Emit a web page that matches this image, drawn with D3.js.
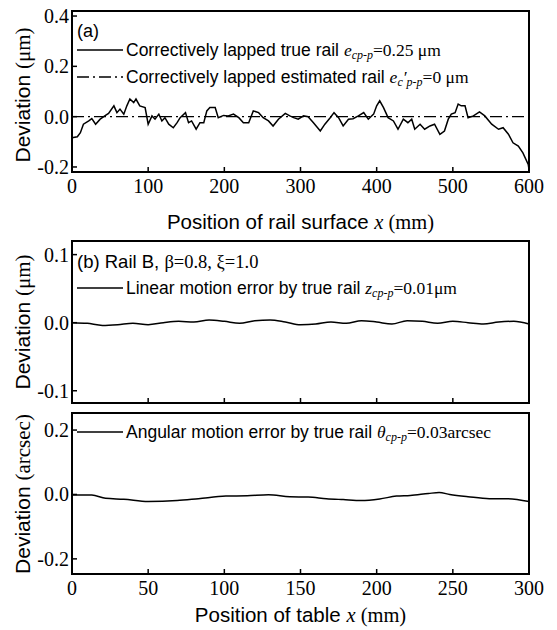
<!DOCTYPE html>
<html lang="en">
<head>
<meta charset="UTF-8">
<title>Rail deviation</title>
<script src="https://d3js.org/d3.v7.min.js"></script>
<style>
  body { margin: 0; background: #fff; }
  .tick-label { font-family: "Liberation Serif", serif; font-size: 20px; fill: #000; }
  .sans { font-family: "Liberation Sans", Arial, sans-serif; }
  .serif { font-family: "Liberation Serif", serif; }
</style>
</head>
<body>
<div id="chart"></div>
<script>
// ---- data ----
// (a) correctively lapped true rail, position (mm) / deviation (um)
var railX = [0,7,11,15,22,26,31,37,44,48,55,59,63,68,72,76,81,84,89,96,100,105,109,114,118,122,127,133,138,142,149,153,157,163,168,173,177,181,188,192,199,205,212,219,225,232,238,245,251,258,264,271,280,286,291,297,304,310,317,326,332,339,344,350,356,363,369,376,383,389,396,400,404,409,415,422,428,435,441,446,450,457,463,470,476,483,489,494,498,503,507,511,516,520,527,535,542,551,560,566,573,579,586,592,599,600];
var railY = [-0.084,-0.08,-0.064,-0.03,-0.017,-0.008,-0.03,-0.01,0.005,0.013,0.043,0.016,0.03,0.01,0.043,0.07,0.056,0.07,0.043,0.036,-0.03,0.003,-0.01,0.01,-0.017,-0.004,-0.03,-0.044,-0.024,-0.004,0.016,-0.024,-0.017,-0.05,-0.024,-0.024,0.023,0.036,0.036,-0.004,0.005,0.003,0.01,-0.004,-0.024,-0.024,0.023,0.016,-0.004,-0.017,-0.037,-0.01,0.013,0.003,-0.004,-0.01,0.003,0,-0.024,-0.057,-0.03,-0.004,0.016,-0.004,-0.037,-0.01,-0.008,0.003,0.016,-0.01,0.01,0.043,0.063,0.036,-0.004,-0.017,-0.05,-0.01,-0.024,-0.01,-0.05,-0.03,-0.05,-0.037,-0.03,-0.07,-0.057,-0.01,0.01,0.016,0.05,0.043,0.043,-0.004,0.003,0.019,0.003,-0.03,-0.05,-0.044,-0.07,-0.104,-0.117,-0.144,-0.19,-0.21];
// (b) linear motion error (um) and angular motion error (arcsec) vs table position (mm)
var tableX = [0,10,20,30,40,50,60,70,80,90,100,110,120,130,140,150,160,170,180,190,200,210,220,230,240,250,260,270,280,290,300];
var linearY = [0,-0.001,-0.004,-0.003,-0.001,-0.003,0,0.002,0.001,0.004,0.002,-0.001,0.003,0.004,0.001,-0.003,-0.002,0.001,-0.001,0.003,0.001,-0.002,0.003,0.002,-0.001,0.002,0,-0.002,0.001,0.002,-0.002];
var angleX = [0,13,22,34,50,69,83,101,115,129,143,155,167,178,190,202,213,222,234,241,248,260,274,285,300];
var angleY = [-0.002,-0.002,-0.012,-0.015,-0.022,-0.019,-0.013,-0.005,-0.004,-0.001,-0.007,-0.008,-0.013,-0.016,-0.019,-0.014,-0.005,-0.003,0.003,0.006,0,-0.007,-0.013,-0.013,-0.022];
var railTicksX = [0,100,200,300,400,500,600];
var tableTicksX = [0,50,100,150,200,250,300];
var ticksA = [-0.2,0.0,0.2,0.4];
var ticksB = [-0.1,0.0,0.1];
var ticksC = [-0.2,0.0,0.2];

var W = 557, H = 630, L = 72, R = 529;
var svg = d3.select("#chart").append("svg").attr("width", W).attr("height", H);
svg.append("rect").attr("width", W).attr("height", H).attr("fill", "#fff");

function fmt(v) { return v < 0 ? "-" + Math.abs(v).toFixed(1) : v.toFixed(1); }

// draws one framed panel and returns its scales
function panel(top, bottom, xDom, yDom, xTicks, yTicks, showXLabels) {
    var x = d3.scaleLinear().domain(xDom).range([L, R]);
    var y = d3.scaleLinear().domain(yDom).range([bottom, top]);
    var g = svg.append("g");
    g.append("rect").attr("x", L).attr("y", top).attr("width", R - L).attr("height", bottom - top)
        .attr("fill", "none").attr("stroke", "#000").attr("stroke-width", 2);
    yTicks.forEach(function(t) {
        g.append("line").attr("x1", L).attr("x2", L + 5).attr("y1", y(t)).attr("y2", y(t))
            .attr("stroke", "#000").attr("stroke-width", 1.5);
        g.append("text").attr("class", "tick-label").attr("x", L - 3).attr("y", y(t))
            .attr("dy", "0.35em").attr("text-anchor", "end").text(fmt(t));
    });
    xTicks.forEach(function(t) {
        g.append("line").attr("x1", x(t)).attr("x2", x(t)).attr("y1", bottom).attr("y2", bottom - 5)
            .attr("stroke", "#000").attr("stroke-width", 1.5);
        if (showXLabels)
            g.append("text").attr("class", "tick-label").attr("x", x(t)).attr("y", bottom + 21)
                .attr("text-anchor", "middle").text(t);
    });
    return {x: x, y: y, g: g};
}

function yTitle(cy, unit) {
    var t = svg.append("text").attr("transform", "translate(30," + cy + ") rotate(-90)")
        .attr("text-anchor", "middle").attr("font-size", 21);
    t.append("tspan").attr("class", "sans").text("Deviation ");
    t.append("tspan").attr("class", "serif").text(" " + unit);
}

function xTitle(cy, word) {
    var t = svg.append("text").attr("x", (L + R) / 2).attr("y", cy).attr("text-anchor", "middle").attr("font-size", 20.5);
    t.append("tspan").attr("class", "sans").text(word + " ");
    t.append("tspan").attr("class", "serif").attr("font-style", "italic").text("x");
    t.append("tspan").attr("class", "serif").text("  (mm)");
}

function legendLine(g, y0, dash) {
    g.append("line").attr("x1", 77).attr("x2", 123).attr("y1", y0).attr("y2", y0)
        .attr("stroke", "#000").attr("stroke-width", 1.4).attr("stroke-dasharray", dash || null);
}

// ---- panel (a) ----
var a = panel(11, 172, [0, 600], [-0.22, 0.42], railTicksX, ticksA, true);
a.g.append("line").attr("x1", a.x(0)).attr("x2", a.x(600)).attr("y1", a.y(0)).attr("y2", a.y(0))
    .attr("stroke", "#000").attr("stroke-width", 1.4).attr("stroke-dasharray", "12,4,2,4");
a.g.append("path").datum(d3.zip(railX, railY))
    .attr("d", d3.line().x(function(d) { return a.x(d[0]); }).y(function(d) { return a.y(d[1]); }))
    .attr("fill", "none").attr("stroke", "#000").attr("stroke-width", 1.5);
a.g.append("text").attr("class", "sans").attr("x", 77).attr("y", 37).attr("font-size", 18).text("(a)");
legendLine(a.g, 50);
var la = a.g.append("text").attr("x", 126).attr("y", 56).attr("font-size", 17.5);
la.append("tspan").attr("class", "sans").text("Correctively lapped true rail ");
la.append("tspan").attr("class", "serif").attr("font-style", "italic").text("e");
la.append("tspan").attr("class", "serif").attr("font-style", "italic").attr("font-size", 12).attr("dy", 3).text("cp-p");
la.append("tspan").attr("class", "serif").attr("dy", -3).text("=0.25 \u03bcm");
legendLine(a.g, 77, "12,4,2,4");
var lb = a.g.append("text").attr("x", 126).attr("y", 83).attr("font-size", 17.5);
lb.append("tspan").attr("class", "sans").text("Correctively lapped estimated rail ");
lb.append("tspan").attr("class", "serif").attr("font-style", "italic").text("e");
lb.append("tspan").attr("class", "serif").attr("font-style", "italic").attr("font-size", 12).attr("dy", 3).text("c");
lb.append("tspan").attr("class", "serif").attr("font-style", "italic").attr("dy", -3).text("\u2032");
lb.append("tspan").attr("class", "serif").attr("font-style", "italic").attr("font-size", 12).attr("dy", 3).text("p-p");
lb.append("tspan").attr("class", "serif").attr("dy", -3).text("=0 \u03bcm");
yTitle(95, "(\u03bcm)");
xTitle(229, "Position of rail surface");

// ---- panel (b) linear ----
var b = panel(241, 403, [0, 300], [-0.118, 0.12], tableTicksX, ticksB, false);
b.g.append("path").datum(d3.zip(tableX, linearY))
    .attr("d", d3.line().curve(d3.curveMonotoneX).x(function(d) { return b.x(d[0]); }).y(function(d) { return b.y(d[1]); }))
    .attr("fill", "none").attr("stroke", "#000").attr("stroke-width", 1.5);
var tb = b.g.append("text").attr("x", 77).attr("y", 268).attr("font-size", 18.5);
tb.append("tspan").attr("class", "sans").text("(b)  Rail B, ");
tb.append("tspan").attr("class", "serif").text("\u03b2=0.8, \u03be=1.0");
legendLine(b.g, 288);
var lc = b.g.append("text").attr("x", 126).attr("y", 294).attr("font-size", 17.5);
lc.append("tspan").attr("class", "sans").text("Linear motion error by true rail ");
lc.append("tspan").attr("class", "serif").attr("font-style", "italic").text("z");
lc.append("tspan").attr("class", "serif").attr("font-style", "italic").attr("font-size", 12).attr("dy", 3).text("cp-p");
lc.append("tspan").attr("class", "serif").attr("dy", -3).text("=0.01\u03bcm");
yTitle(322, "(\u03bcm)");

// ---- panel (c) angular ----
var c = panel(413, 574, [0, 300], [-0.247, 0.253], tableTicksX, ticksC, true);
c.g.append("path").datum(d3.zip(angleX, angleY))
    .attr("d", d3.line().curve(d3.curveMonotoneX).x(function(d) { return c.x(d[0]); }).y(function(d) { return c.y(d[1]); }))
    .attr("fill", "none").attr("stroke", "#000").attr("stroke-width", 1.5);
legendLine(c.g, 432);
var ld = c.g.append("text").attr("x", 126).attr("y", 438).attr("font-size", 17.5);
ld.append("tspan").attr("class", "sans").text("Angular motion error by true rail ");
ld.append("tspan").attr("class", "serif").attr("font-style", "italic").text("\u03b8");
ld.append("tspan").attr("class", "serif").attr("font-style", "italic").attr("font-size", 12).attr("dy", 3).text("cp-p");
ld.append("tspan").attr("class", "serif").attr("dy", -3).text("=0.03arcsec");
yTitle(494, "(arcsec)");
xTitle(622, "Position of table");
</script>
</body>
</html>
